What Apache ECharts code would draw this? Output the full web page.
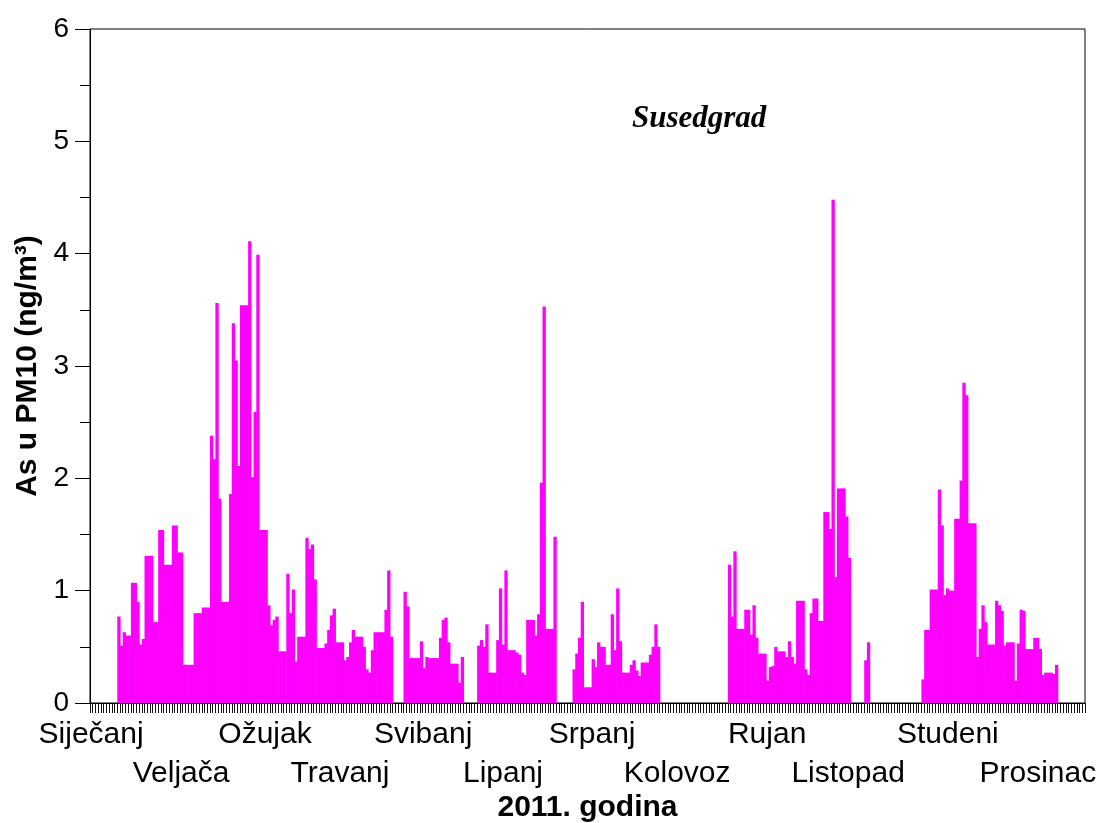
<!DOCTYPE html>
<html>
<head>
<meta charset="utf-8">
<script src="https://cdn.jsdelivr.net/npm/echarts@6/dist/echarts.min.js"></script>
<style>
html,body{margin:0;padding:0;background:#fff;}
#chart{width:1104px;height:823px;}
</style>
</head>
<body>
<div id="chart"></div>
<script>
// Daily As in PM10 (ng/m3), Susedgrad, 2011 (null = no measurement)
const jan = [null,null,null,null,null,null,null,null,null,null,
  0.77,0.51,0.63,0.60,0.60,1.07,1.07,0.90,0.52,0.57,1.31,1.31,1.31,0.72,0.72,1.54,1.54,1.23,1.23,1.23,1.58];
const feb = [1.58,1.34,1.34,0.34,0.34,0.34,0.34,0.80,0.80,0.80,0.85,0.85,0.85,2.38,2.17,3.56,1.82,0.90,0.90,0.90,
  1.86,3.38,3.05,2.11,3.54,3.54,3.54,4.11];
const mar = [2.01,2.59,3.99,1.54,1.54,1.54,0.87,0.69,0.74,0.77,0.46,0.46,0.46,1.15,0.80,1.01,0.37,0.59,0.59,0.59,
  1.47,1.37,1.41,1.10,0.49,0.49,0.49,0.53,0.65,0.78,0.84];
const apr = [0.54,0.54,0.54,0.38,0.41,0.54,0.65,0.59,0.59,0.59,0.50,0.30,0.27,0.47,0.63,0.63,0.63,0.63,0.83,1.18,
  0.59,null,null,null,null,0.99,0.86,0.40,0.40,0.40];
const may = [0.40,0.55,0.31,0.41,0.40,0.40,0.40,0.40,0.58,0.74,0.76,0.54,0.35,0.35,0.35,0.18,0.41,
  null,null,null,null,null,0.51,0.56,0.50,0.70,0.27,0.27,0.27,0.56,1.02];
const jun = [0.52,1.18,0.47,0.47,0.47,0.45,0.43,0.27,0.25,0.74,0.74,0.74,0.60,0.79,1.96,3.53,0.66,0.66,0.66,1.48,
  null,null,null,null,null,null,0.30,0.44,0.58,0.90];
const jul = [0.14,0.14,0.14,0.39,0.32,0.54,0.50,0.50,0.34,0.34,0.79,0.47,1.02,0.55,0.27,0.27,0.27,0.34,0.38,0.29,
  0.24,0.36,0.36,0.36,0.43,0.50,0.70,0.50,null,null,null];
const aug = [null,null,null,null,null,null,null,null,null,null,null,null,null,null,null,null,null,null,null,null,
  null,null,1.23,0.77,1.35,0.66,0.66,0.66,0.83,0.83,0.61];
const sep = [0.87,0.58,0.44,0.44,0.44,0.20,0.32,0.33,0.50,0.46,0.46,0.46,0.41,0.55,0.41,0.35,0.91,0.91,0.91,0.30,
  0.25,0.80,0.93,0.93,0.73,0.73,1.70,1.70,1.55,4.48];
const oct = [1.12,1.91,1.91,1.91,1.66,1.29,null,null,null,null,null,0.38,0.54,
  null,null,null,null,null,null,null,null,null,null,null,null,null,null,null,null,null,null];
const nov = [null,0.21,0.65,0.65,1.01,1.01,1.01,1.90,1.58,0.96,1.02,1.00,1.00,1.64,1.64,1.98,2.85,2.74,1.60,1.60,
  1.60,0.41,0.66,0.87,0.72,0.52,0.52,0.52,0.91,0.87];
const dec = [0.82,0.51,0.54,0.54,0.54,0.20,0.53,0.83,0.82,0.48,0.48,0.48,0.58,0.58,0.48,0.25,0.27,0.27,0.27,0.26,
  0.34,null,null,null,null,null,null,null,null,null,null];

const monthNames = ['Siječanj','Veljača','Ožujak','Travanj','Svibanj','Lipanj','Srpanj','Kolovoz','Rujan','Listopad','Studeni','Prosinac'];
const yTicks = [0,1,2,3,4,5,6];

const values = [].concat(jan, feb, mar, apr, may, jun, jul, aug, sep, oct, nov, dec);
const DAYS = values.length; // 365
const barData = [];
values.forEach((v, i) => { if (v !== null) barData.push([i, v]); });

// where the month names sit along the day axis (label layout), two staggered rows
const monthLabelAt = [0.4, 33.4, 64.2, 91.7, 122.2, 151.5, 184.2, 215.4, 248.4, 278.1, 314.7, 347.7];
const row1At = monthLabelAt.filter((p, i) => i % 2 === 0);
const row2At = monthLabelAt.filter((p, i) => i % 2 === 1);
const monthFormatter = v => {
  let best = 0;
  monthLabelAt.forEach((p, i) => { if (Math.abs(p - v) < Math.abs(monthLabelAt[best] - v)) best = i; });
  return monthNames[best];
};

const chart = echarts.init(document.getElementById('chart'), null, {renderer: 'canvas'});
const FONT = 'Liberation Sans, Arial, sans-serif';

function labelAxis(positions, offset) {
  return {
    type: 'value',
    min: 0, max: DAYS,
    position: 'bottom',
    offset: offset,
    axisLine: {show: false},
    axisTick: {show: false},
    splitLine: {show: false},
    axisLabel: {
      show: true,
      showMinLabel: true,
      showMaxLabel: true,
      hideOverlap: false,
      customValues: positions,
      margin: 17,
      formatter: monthFormatter,
      fontFamily: FONT, fontSize: 30, color: '#000'
    }
  };
}

chart.setOption({
  animation: false,
  backgroundColor: '#ffffff',
  title: {
    text: 'Susedgrad',
    left: 627, top: 98,
    textStyle: {fontFamily: 'Liberation Serif, Times New Roman, serif', fontStyle: 'italic', fontWeight: 'bold', fontSize: 31, color: '#000'}
  },
  grid: {left: 90, right: 19, top: 29, bottom: 120, outerBoundsMode: 'none', containLabel: false,
         show: true, borderColor: '#000', borderWidth: 1, backgroundColor: 'transparent'},
  xAxis: [{
    type: 'value',
    min: 0, max: DAYS, interval: 1,
    position: 'bottom',
    axisLine: {show: true, lineStyle: {color: '#000', width: 1}},
    axisTick: {show: true, length: 10, inside: false, lineStyle: {color: '#111', width: 1}},
    axisLabel: {show: false},
    splitLine: {show: false},
    name: '2011. godina',
    nameLocation: 'middle',
    nameGap: 90,
    nameTextStyle: {fontFamily: FONT, fontWeight: 'bold', fontSize: 30, color: '#000'}
  }, labelAxis(row1At, 0), labelAxis(row2At, 39)],
  yAxis: {
    type: 'value',
    min: yTicks[0], max: yTicks[yTicks.length - 1], interval: 1,
    axisLine: {show: true, lineStyle: {color: '#000', width: 1}},
    axisTick: {show: true, length: 15, inside: false, lineStyle: {color: '#000'}},
    minorTick: {show: true, splitNumber: 2, length: 10, lineStyle: {color: '#000'}},
    splitLine: {show: false},
    axisLabel: {fontFamily: FONT, fontSize: 28, color: '#000', margin: 21},
    name: 'As u PM10 (ng/m³)',
    nameLocation: 'middle',
    nameGap: 41,
    nameTextStyle: {fontFamily: FONT, fontWeight: 'bold', fontSize: 30, color: '#000'}
  },
  series: [{
    type: 'custom',
    xAxisIndex: 0,
    yAxisIndex: 0,
    data: barData,
    encode: {x: 0, y: 1},
    clip: true,
    renderItem: function (params, api) {
      const i = api.value(0);
      const v = api.value(1);
      const topLeft = api.coord([i, v]);
      const baseRight = api.coord([i + 1, 0]);
      return {
        type: 'rect',
        shape: {x: topLeft[0], y: topLeft[1], width: baseRight[0] - topLeft[0] + 0.6, height: baseRight[1] - topLeft[1]},
        style: {fill: '#ff00ff'}
      };
    }
  }]
});
</script>
</body>
</html>
